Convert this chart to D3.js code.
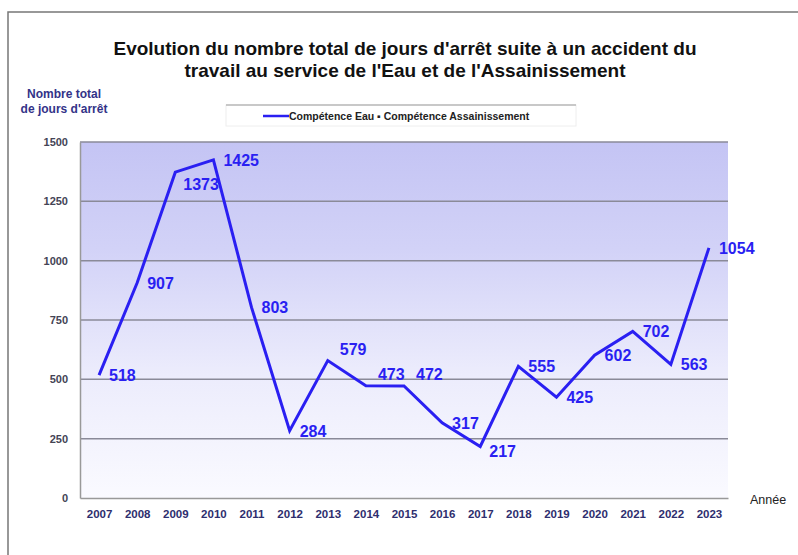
<!DOCTYPE html>
<html>
<head>
<meta charset="utf-8">
<script src="https://cdn.jsdelivr.net/npm/d3@7"></script>
<style>
  body { margin: 0; background: #fff; }
  svg { display: block; font-family: "Liberation Sans", Arial, sans-serif; }
</style>
</head>
<body>
<svg id="chart" width="798" height="555"></svg>
<script>
// data
const years = ["2007", "2008", "2009", "2010", "2011", "2012", "2013", "2014", "2015",
    "2016", "2017", "2018", "2019", "2020", "2021", "2022", "2023"];
const jours = [518, 907, 1373, 1425, 803, 284, 579, 473, 472, 317, 217, 555, 425, 602, 702, 563, 1054];
// where each value label sits relative to its point
const labelPlace = ["r", "r", "br", "r", "r", "r", "ur", "ur", "ur", "r", "lr", "r", "r", "r", "r", "r", "r"];
const yTicks = [0, 250, 500, 750, 1000, 1250, 1500];

const plotL = 80, plotR = 728, plotT = 142, plotB = 498;

const svg = d3.select("#chart");

// outer frame
svg.append("path")
    .attr("d", "M8,555 L8,12 L798,12")
    .attr("fill", "none")
    .attr("stroke", "#777")
    .attr("stroke-width", 1.5);

const defs = svg.append("defs");
const grad = defs.append("linearGradient")
    .attr("id", "bg").attr("x1", 0).attr("y1", 0).attr("x2", 0).attr("y2", 1);
grad.append("stop").attr("offset", "0%").attr("stop-color", "#c4c4f4");
grad.append("stop").attr("offset", "30%").attr("stop-color", "#d2d2f7");
grad.append("stop").attr("offset", "65%").attr("stop-color", "#ececfc");
grad.append("stop").attr("offset", "100%").attr("stop-color", "#fafaff");

const x = d3.scalePoint()
    .domain(years)
    .range([plotL, plotR])
    .padding(0.5);

const y = d3.scaleLinear()
    .domain([0, 1500])
    .range([plotB, plotT]);

svg.append("rect")
    .attr("x", plotL).attr("y", plotT)
    .attr("width", plotR - plotL).attr("height", plotB - plotT)
    .attr("fill", "url(#bg)");

// gridlines
svg.append("g")
    .selectAll("line")
    .data(yTicks.filter(d => d > 0))
    .enter()
    .append("line")
    .attr("x1", plotL).attr("x2", plotR)
    .attr("y1", d => y(d)).attr("y2", d => y(d))
    .attr("stroke", "#8a8a98")
    .attr("stroke-width", 1.5);

// axes
const yAxis = d3.axisLeft(y).tickValues(yTicks).tickFormat(d3.format("d")).tickSize(0).tickPadding(12);
const gy = svg.append("g")
    .attr("transform", "translate(" + plotL + ",0)")
    .call(yAxis);
gy.select(".domain").attr("stroke", "#999").attr("stroke-width", 1.5);
gy.selectAll("text")
    .attr("fill", "#444455")
    .style("font-size", "11px")
    .style("font-weight", "bold");

const xAxis = d3.axisBottom(x).tickSize(0).tickPadding(12);
const gx = svg.append("g")
    .attr("transform", "translate(0," + plotB + ")")
    .call(xAxis);
gx.select(".domain").attr("stroke", "#999").attr("stroke-width", 1.5);
gx.selectAll("text")
    .attr("fill", "#2e2e6e")
    .style("font-size", "11.5px")
    .style("font-weight", "bold");

// series line
const line = d3.line()
    .x((d, i) => x(years[i]))
    .y(d => y(d));

svg.append("path")
    .datum(jours)
    .attr("d", line)
    .attr("fill", "none")
    .attr("stroke", "#2a1ff2")
    .attr("stroke-width", 3)
    .attr("stroke-linejoin", "miter");

// value labels
const offs = { r: [10, 6], br: [8, 18], lr: [9, 11], ur: [12, -6] };
svg.append("g")
    .selectAll("text")
    .data(jours)
    .enter()
    .append("text")
    .attr("x", (d, i) => x(years[i]) + offs[labelPlace[i]][0])
    .attr("y", (d, i) => y(d) + offs[labelPlace[i]][1])
    .attr("fill", "#2a1ff2")
    .style("font-size", "16px")
    .style("font-weight", "bold")
    .text(d => d);

// title
const title = svg.append("text")
    .attr("text-anchor", "middle")
    .attr("fill", "#111")
    .style("font-size", "19px")
    .style("font-weight", "bold");
title.append("tspan").attr("x", 405).attr("y", 55)
    .text("Evolution du nombre total de jours d'arrêt suite à un accident du");
title.append("tspan").attr("x", 405).attr("y", 77)
    .text("travail au service de l'Eau et de l'Assainissement");

// y axis title
const yt = svg.append("text")
    .attr("text-anchor", "middle")
    .attr("fill", "#333388")
    .style("font-size", "12px")
    .style("font-weight", "bold");
yt.append("tspan").attr("x", 64).attr("y", 98).text("Nombre total");
yt.append("tspan").attr("x", 64).attr("y", 113).text("de jours d'arrêt");

// x axis title
svg.append("text")
    .attr("x", 750).attr("y", 504)
    .attr("fill", "#222")
    .style("font-size", "12.5px")
    .text("Année");

// legend
const lg = svg.append("g");
lg.append("rect")
    .attr("x", 226).attr("y", 105).attr("width", 350).attr("height", 21)
    .attr("fill", "#fff")
    .attr("stroke", "#eee");
lg.append("line")
    .attr("x1", 226).attr("x2", 576).attr("y1", 105).attr("y2", 105)
    .attr("stroke", "#999").attr("stroke-width", 1.2);
lg.append("line")
    .attr("x1", 263).attr("x2", 289).attr("y1", 116).attr("y2", 116)
    .attr("stroke", "#2a1ff2").attr("stroke-width", 2.5);
lg.append("text")
    .attr("x", 289).attr("y", 120)
    .attr("fill", "#222")
    .style("font-size", "10.5px")
    .style("font-weight", "bold")
    .text("Compétence Eau ▪ Compétence Assainissement");
</script>
</body>
</html>
